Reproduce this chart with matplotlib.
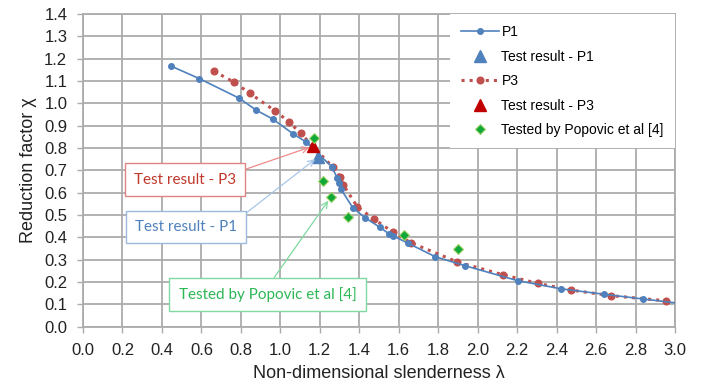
import numpy as np
import matplotlib
matplotlib.use("Agg")
import matplotlib.pyplot as plt

# P1 curve
p1_x = [0.446, 0.589, 0.792, 0.877, 0.961, 1.066, 1.130, 1.260, 1.289, 1.299, 1.308,
        1.367, 1.429, 1.505, 1.552, 1.573, 1.649, 1.786, 1.936, 2.203, 2.421, 2.642,
        2.840, 3.000]
p1_y = [1.167, 1.111, 1.023, 0.970, 0.930, 0.863, 0.827, 0.717, 0.665, 0.645, 0.615,
        0.533, 0.488, 0.445, 0.415, 0.406, 0.373, 0.313, 0.273, 0.206, 0.170, 0.145,
        0.124, 0.107]

# P3 curve
p3_x = [0.664, 0.767, 0.846, 0.972, 1.043, 1.103, 1.266, 1.303, 1.319, 1.390, 1.476,
        1.570, 1.662, 1.897, 2.127, 2.305, 2.472, 2.676, 2.953]
p3_y = [1.144, 1.094, 1.045, 0.967, 0.918, 0.866, 0.714, 0.672, 0.635, 0.537, 0.481,
        0.424, 0.376, 0.290, 0.233, 0.194, 0.164, 0.139, 0.116]

# test results
test_p1 = (1.193, 0.761)
test_p3 = (1.167, 0.809)

# Popovic et al tests
pop_x = [1.172, 1.218, 1.255, 1.345, 1.628, 1.899]
pop_y = [0.846, 0.652, 0.579, 0.493, 0.412, 0.347]

xticks = np.arange(0, 3.01, 0.2)
yticks = np.arange(0, 1.401, 0.1)

blue = '#4F81BD'
red = '#C0504D'
grid_c = '#ABABAB'

plt.rcParams['font.family'] = ['Liberation Sans', 'DejaVu Sans']

fig = plt.figure(figsize=(7.05, 3.87), dpi=100)
ax = fig.add_axes([0.1177, 0.1558, 0.8397, 0.8080])

ax.plot(p1_x, p1_y, '-', color=blue, lw=1.2, marker='o', ms=4,
        markevery=list(range(len(p1_x) - 1)), label='P1', zorder=4)
ax.plot([test_p1[0]], [test_p1[1]], ls='none', marker='^', ms=8, color=blue,
        label='Test result - P1', zorder=5)
ax.plot(p3_x, p3_y, ':', color=red, lw=2.2, marker='o', ms=4.8, label='P3', zorder=3)
ax.plot([test_p3[0]], [test_p3[1]], ls='none', marker='^', ms=8, color='#C00000',
        label='Test result - P3', zorder=5)
ax.plot(pop_x, pop_y, ls='none', marker='D', ms=5.5, color='#10A838',
        markeredgecolor='#9ED26A', markeredgewidth=0.8,
        label='Tested by Popovic et al [4]', zorder=6)

ax.set_xlim(0, 3.0)
ax.set_ylim(0, 1.4)
ax.set_xticks(xticks)
ax.set_yticks(yticks)
ax.set_xticklabels([f'{v:.1f}' for v in xticks])
ax.set_yticklabels([f'{v:.1f}' for v in yticks])
ax.grid(True, color=grid_c, lw=1.3)
ax.set_axisbelow(True)
for s in ax.spines.values():
    s.set_color(grid_c)
    s.set_linewidth(1.3)
ax.tick_params(colors=grid_c, labelcolor='#222222', labelsize=12, length=4.3, width=1.0)
ax.tick_params(axis='x', pad=7.5)
ax.tick_params(axis='y', pad=7)

ax.set_xlabel('Non-dimensional slenderness λ', fontsize=13, color='#222222', labelpad=5)
ax.set_ylabel('Reduction factor χ', fontsize=13, color='#222222', labelpad=5)

leg = ax.legend(loc='upper right', bbox_to_anchor=(1.0, 1.0), fontsize=10,
                frameon=True, fancybox=False, framealpha=1, facecolor='white',
                edgecolor='none', handlelength=2.7, labelspacing=0.76,
                borderpad=0.8, handletextpad=0.2, borderaxespad=0)
leg.set_zorder(10)

ann_font = ['Lato', 'DejaVu Sans']
ax.annotate('Test result - P3', xy=test_p3, xytext=(0.517, 0.659),
            fontsize=11, color='#C0392B', family=ann_font, ha='center', va='center',
            bbox=dict(boxstyle='square,pad=0.6', fc='white', ec='#E08585', lw=1),
            arrowprops=dict(arrowstyle='->', color='#EE8A8A', lw=0.9, relpos=(1, 1),
                            shrinkA=0, shrinkB=3), zorder=8)
ax.annotate('Test result - P1', xy=test_p1, xytext=(0.522, 0.446),
            fontsize=11, color=blue, family=ann_font, ha='center', va='center',
            bbox=dict(boxstyle='square,pad=0.6', fc='white', ec='#9DB9DE', lw=1),
            arrowprops=dict(arrowstyle='->', color='#A8C6E8', lw=0.9, relpos=(1, 1),
                            shrinkA=0, shrinkB=3), zorder=8)
ax.annotate('Tested by Popovic et al [4]', xy=(pop_x[2], pop_y[2]), xytext=(0.935, 0.144),
            fontsize=11, color='#2DB755', family=ann_font, ha='center', va='center',
            bbox=dict(boxstyle='square,pad=0.6', fc='white', ec='#7FD9A0', lw=1),
            arrowprops=dict(arrowstyle='->', color='#7FD9A0', lw=0.9, relpos=(0.5, 1),
                            shrinkA=0, shrinkB=3), zorder=8)

fig.savefig('out.png', dpi=100)
